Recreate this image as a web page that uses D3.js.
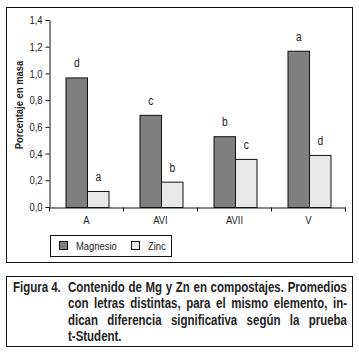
<!DOCTYPE html>
<html>
<head>
<meta charset="utf-8">
<script src="https://cdn.jsdelivr.net/npm/d3@7"></script>
<style>
  body { margin: 0; background: #fff; }
  svg text { font-family: "Liberation Sans", Arial, sans-serif; }
</style>
</head>
<body>
<div id="chart"></div>
<script>
const categories = ["A", "AVI", "AVII", "V"];
const series = ["Magnesio", "Zinc"];
const magnesio = [0.97, 0.69, 0.53, 1.17];
const zinc = [0.12, 0.19, 0.36, 0.39];
const magnesioLetters = ["d", "c", "b", "a"];
const zincLetters = ["a", "b", "c", "d"];
const yTicks = [0, 0.2, 0.4, 0.6, 0.8, 1.0, 1.2, 1.4];
const yTitle = "Porcentaje en masa";
const captionLabel = "Figura 4.";
const captionLines = [
    "Contenido de Mg y Zn en compostajes. Promedios",
    "con letras distintas, para el mismo elemento, in-",
    "dican diferencia significativa según la prueba",
    "t-Student."
];

const width = 359, height = 357;
const colors = { Magnesio: "#7f7f7f", Zinc: "#e8e8e8" };
const textColor = "#222";
const SX = 0.82; // emulate a narrow face

// squeeze a text horizontally while keeping its x anchor
function narrow(sel) {
    sel.each(function() {
        const t = d3.select(this);
        const x0 = +(t.attr("x") || 0);
        t.attr("x", x0 / SX).attr("transform", `scale(${SX},1)`);
    });
}

const svg = d3.select("#chart").append("svg").attr("width", width).attr("height", height);
svg.append("rect").attr("width", width).attr("height", height).attr("fill", "#fff");

// frames
svg.append("rect").attr("x", 6.5).attr("y", 7.5).attr("width", 346).attr("height", 255)
    .attr("fill", "none").attr("stroke", "#111").attr("stroke-width", 1);
svg.append("rect").attr("x", 6.5).attr("y", 276.5).attr("width", 346).attr("height", 70)
    .attr("fill", "none").attr("stroke", "#111").attr("stroke-width", 1);

const x = d3.scaleBand().domain(categories).range([49.5, 345.5]).padding(0);
const xs = d3.scaleBand().domain(series).range([16, 59]).padding(0);
const y = d3.scaleLinear().domain([0, 1.4]).range([207, 20]);
const fmt = d => d3.format(".1f")(d).replace(".", ",");

// y axis
const yAxis = svg.append("g").attr("transform", "translate(49.5,0)")
    .call(d3.axisLeft(y).tickValues(yTicks).tickSize(4).tickSizeOuter(0).tickFormat(fmt).tickPadding(3));
yAxis.select(".domain").attr("stroke", "#111");
yAxis.selectAll(".tick line").attr("stroke", "#111");
yAxis.selectAll("text").attr("fill", textColor).style("font-size", "11.5px")
    .style("font-family", "'Liberation Sans', Arial, sans-serif").call(narrow);

// bars
const rows = categories.map((c, i) => ({
    cat: c,
    vals: [
        { s: "Magnesio", v: magnesio[i], letter: magnesioLetters[i] },
        { s: "Zinc", v: zinc[i], letter: zincLetters[i] }
    ]
}));

const groups = svg.selectAll(".grp").data(rows).enter().append("g")
    .attr("transform", d => `translate(${x(d.cat)},0)`);

groups.selectAll("rect").data(d => d.vals).enter().append("rect")
    .attr("x", d => xs(d.s) + 0.5)
    .attr("y", d => y(d.v) + 0.5)
    .attr("width", xs.bandwidth())
    .attr("height", d => y(0) - y(d.v))
    .attr("fill", d => colors[d.s])
    .attr("stroke", "#111").attr("stroke-width", 1);

groups.selectAll(".letter").data(d => d.vals).enter().append("text")
    .attr("x", d => xs(d.s) + xs.bandwidth() / 2 + 0.5)
    .attr("y", d => y(d.v) - 10)
    .attr("text-anchor", "middle")
    .attr("fill", textColor).style("font-size", "12.5px")
    .text(d => d.letter)
    .call(narrow);

// x axis
const xAxis = svg.append("g").attr("transform", "translate(0,207.5)")
    .call(d3.axisBottom(x).tickSize(0).tickPadding(8));
xAxis.select(".domain").attr("stroke", "#111");
xAxis.selectAll("text").attr("fill", textColor).style("font-size", "11.5px")
    .style("font-family", "'Liberation Sans', Arial, sans-serif").call(narrow);
const bounds = categories.map(c => x(c)).concat([x.range()[1]]);
svg.append("g").selectAll("line").data(bounds).enter().append("line")
    .attr("x1", d => d).attr("x2", d => d)
    .attr("y1", 207.5).attr("y2", 211.5)
    .attr("stroke", "#111");

// y title
svg.append("text")
    .attr("transform", `translate(23,105) rotate(-90) scale(${SX},1)`)
    .attr("text-anchor", "middle")
    .attr("fill", textColor)
    .style("font-size", "11.5px").style("font-weight", "bold")
    .text(yTitle);

// legend
const legend = svg.append("g");
legend.append("rect").attr("x", 50.5).attr("y", 235.5).attr("width", 121).attr("height", 21)
    .attr("fill", "#fff").attr("stroke", "#111");
const legendX = [59.5, 131.5];
series.forEach((s, i) => {
    legend.append("rect").attr("x", legendX[i]).attr("y", 241.5).attr("width", 8).attr("height", 8)
        .attr("fill", colors[s]).attr("stroke", "#111");
    legend.append("text").attr("x", legendX[i] + 16.5).attr("y", 250)
        .attr("fill", textColor).style("font-size", "11.5px").text(s).call(narrow);
});

// caption, justified like the printed figure
const cap = svg.append("g").style("font-size", "14px").style("font-weight", "bold").attr("fill", textColor);
cap.append("text").attr("x", 13).attr("y", 292).text(captionLabel).call(narrow);
const left = 68, right = 347, lineH = 16.3;
captionLines.forEach((line, li) => {
    const words = line.split(" ");
    const yy = 292 + li * lineH;
    const nodes = words.map(w => cap.append("text").attr("y", yy).text(w));
    const widths = nodes.map(n => n.node().getComputedTextLength() * SX);
    const total = d3.sum(widths);
    const last = li === captionLines.length - 1;
    const gap = last ? 3 : (right - left - total) / (words.length - 1);
    let cx = left;
    nodes.forEach((n, i) => { n.attr("x", cx).call(narrow); cx += widths[i] + gap; });
});
</script>
</body>
</html>
